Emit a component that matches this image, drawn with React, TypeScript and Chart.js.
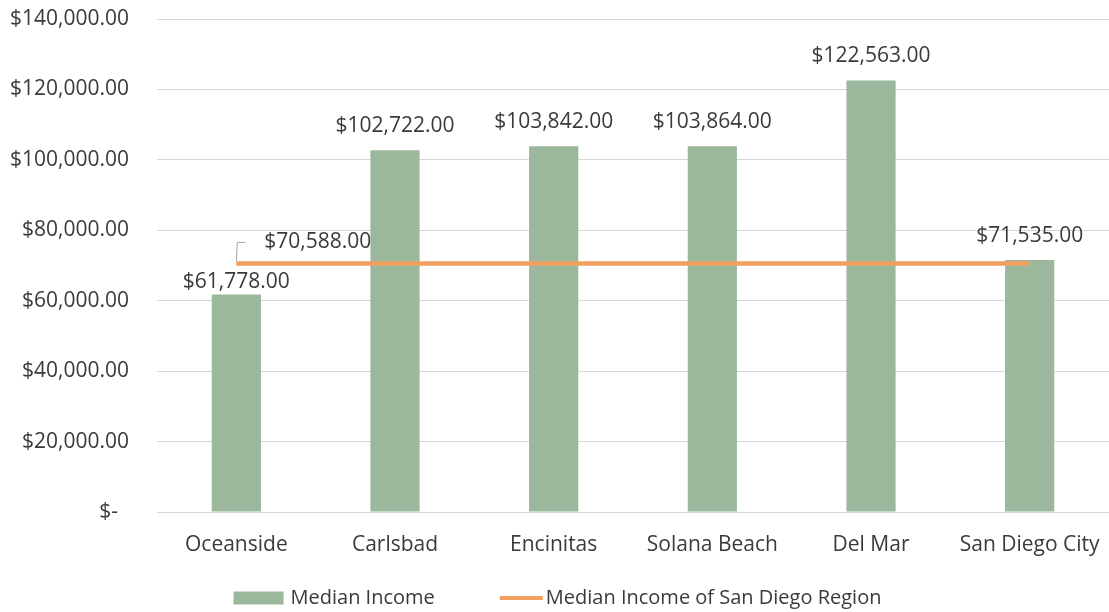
import React, { useEffect, useRef } from 'react';
import { Chart, registerables } from 'chart.js';

Chart.register(...registerables);

const categories = ['Oceanside', 'Carlsbad', 'Encinitas', 'Solana Beach', 'Del Mar', 'San Diego City'];
const medianIncome = [61778, 102722, 103842, 103864, 122563, 71535];
const regionMedian = [70588, 70588, 70588, 70588, 70588, 70588];
const barLegend = 'Median Income';
const lineLegend = 'Median Income of San Diego Region';

const FONT = "'Open Sans', 'DejaVu Sans', sans-serif";
const TEXT = '#3a3a3a';
const BAR = '#9cb89c';
const LINE = '#f1a061';

const money = (v: number) =>
  v === 0 ? '$-  ' : '$' + v.toLocaleString('en-US', { minimumFractionDigits: 2, maximumFractionDigits: 2 });

const labelsPlugin = {
  id: 'labelsPlugin',
  afterDatasetsDraw(chart: any) {
    const ctx = chart.ctx;
    ctx.save();
    ctx.font = `21px ${FONT}`;
    ctx.fillStyle = TEXT;
    ctx.textBaseline = 'middle';
    const barMeta = chart.getDatasetMeta(0);
    barMeta.data.forEach((el: any, i: number) => {
      const lift = i === 0 ? 12 : 24;
      ctx.textAlign = 'center';
      ctx.fillText(money(medianIncome[i]), el.x, el.y - lift);
    });
    const lineMeta = chart.getDatasetMeta(1);
    const p = lineMeta.data[0];
    if (p) {
      ctx.strokeStyle = '#a6a6a6';
      ctx.lineWidth = 1;
      ctx.beginPath();
      ctx.moveTo(p.x, p.y - 2);
      ctx.lineTo(p.x + 1, p.y - 21);
      ctx.lineTo(p.x + 9, p.y - 21);
      ctx.stroke();
      ctx.textAlign = 'left';
      ctx.fillText(money(regionMedian[0]), p.x + 28, p.y - 21);
    }
    ctx.restore();
  },
  afterDraw(chart: any) {
    const ctx = chart.ctx;
    ctx.save();
    ctx.font = `20px ${FONT}`;
    ctx.fillStyle = TEXT;
    ctx.textBaseline = 'middle';
    ctx.textAlign = 'left';
    const y = 598;
    const w1 = ctx.measureText(barLegend).width;
    const w2 = ctx.measureText(lineLegend).width;
    const total = 50 + 7 + w1 + 65 + 43 + 3 + w2;
    let x = chart.width / 2 - total / 2 + 3;
    ctx.fillStyle = BAR;
    ctx.fillRect(x, y - 6.5, 50, 13);
    x += 57;
    ctx.fillStyle = TEXT;
    ctx.fillText(barLegend, x, y);
    x += w1 + 65;
    ctx.strokeStyle = LINE;
    ctx.lineWidth = 4;
    ctx.beginPath();
    ctx.moveTo(x, y);
    ctx.lineTo(x + 43, y);
    ctx.stroke();
    x += 46;
    ctx.fillText(lineLegend, x, y);
    ctx.restore();
  },
};

export default function App() {
  const ref = useRef<HTMLCanvasElement>(null);
  useEffect(() => {
    document.body.style.margin = '0';
    if (!ref.current) return;
    const chart = new Chart(ref.current, {
      type: 'bar',
      data: {
        labels: categories,
        datasets: [
          {
            type: 'bar',
            label: barLegend,
            data: medianIncome,
            backgroundColor: BAR,
            categoryPercentage: 1,
            barPercentage: 0.31,
            order: 1,
          },
          {
            type: 'line',
            label: lineLegend,
            data: regionMedian,
            borderColor: LINE,
            backgroundColor: LINE,
            borderWidth: 4.5,
            pointRadius: 0,
            tension: 0,
            order: 0,
          },
        ],
      } as any,
      options: {
        responsive: false,
        animation: false,
        layout: { padding: { top: 19, right: 0, left: 0, bottom: 45 } },
        plugins: {
          legend: { display: false },
          tooltip: { enabled: false },
          title: { display: false },
        },
        scales: {
          x: {
            grid: { display: false, drawTicks: false },
            border: { display: false },
            ticks: { color: TEXT, font: { family: FONT, size: 21 }, padding: 20, maxRotation: 0 },
            afterFit: (s: any) => {
              s.height = 55;
              s.paddingLeft = 0;
              s.paddingRight = 0;
            },
          },
          y: {
            min: 0,
            max: 140000,
            grid: { color: '#d6d6d6', lineWidth: 1, drawTicks: false },
            border: { display: false },
            ticks: {
              stepSize: 20000,
              color: TEXT,
              font: { family: FONT, size: 21 },
              padding: 28,
              callback: (v: any) => money(Number(v)),
            },
            afterFit: (s: any) => {
              s.width = 157;
              s.paddingTop = 0;
              s.paddingBottom = 0;
            },
          },
        },
      } as any,
      plugins: [labelsPlugin],
    });
    return () => chart.destroy();
  }, []);
  return (
    <div style={{ width: 1109, height: 612, position: 'relative', background: '#fff' }}>
      <canvas ref={ref} width={1109} height={612} />
    </div>
  );
}
